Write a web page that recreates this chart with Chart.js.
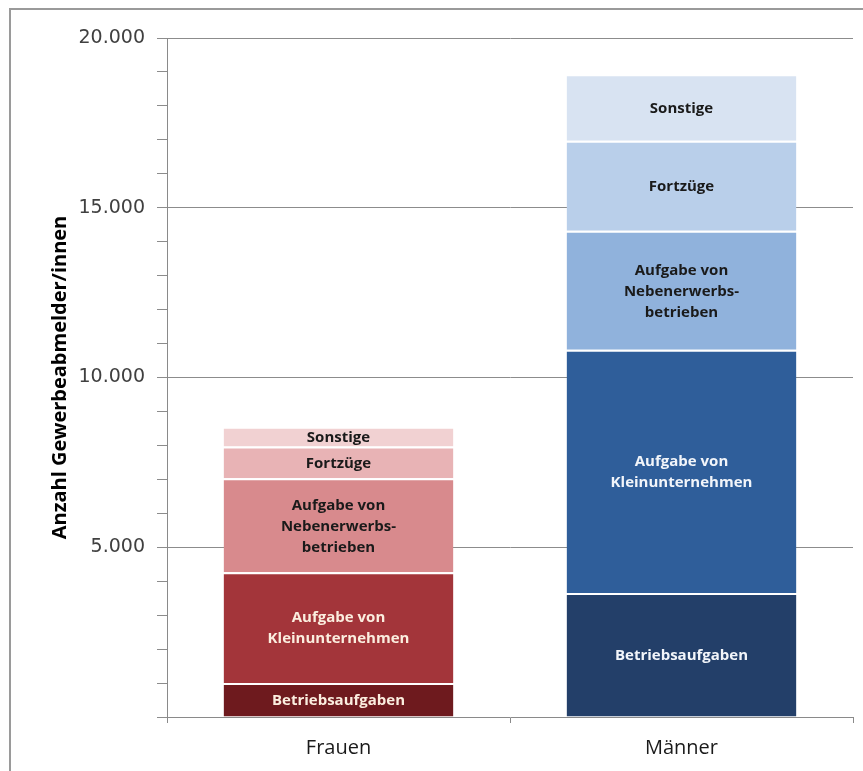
<!DOCTYPE html>
<html lang="de">
<head>
<meta charset="utf-8">
<title>Gewerbeabmeldungen nach Geschlecht</title>
<script src="https://cdn.jsdelivr.net/npm/chart.js@4.4.1/dist/chart.umd.min.js"></script>
<style>
    html, body { margin: 0; padding: 0; background: #ffffff; overflow: hidden; }
    #wrap { position: relative; width: 863px; height: 771px; }
    #frame {
        position: absolute; left: 9px; top: 8px; width: 900px; height: 800px;
        border: 2px solid #9a9a9a; box-sizing: border-box;
    }
    #chart { position: absolute; left: 0; top: 0; }
</style>
</head>
<body>
<div id="wrap">
    <div id="frame"></div>
    <canvas id="chart" width="863" height="771"></canvas>
</div>
<script>
// ===== DATA =====
const categories = ["Frauen", "Männer"];

// Gewerbeabmeldungen je Grund (Anzahl)
const betriebsaufgaben = [1000, 3650];
const kleinunternehmen = [3260, 7170];
const nebenerwerb = [2770, 3500];
const fortzuege = [940, 2650];
const sonstige = [580, 1960];

const segmentLabels = [
    ["Betriebsaufgaben"],
    ["Aufgabe von", "Kleinunternehmen"],
    ["Aufgabe von", "Nebenerwerbs-", "betrieben"],
    ["Fortzüge"],
    ["Sonstige"]
];

const yMax = 20000;
const yMajorStep = 5000;
const yMinorStep = 1000;

// Farben: Frauen in Rottönen, Männer in Blautönen
const colorsFrauen = ["#6e1a1e", "#a3353a", "#d88a8d", "#e8b3b5", "#f1d1d2"];
const colorsMaenner = ["#233f69", "#2f5e9a", "#90b2dc", "#b9cfea", "#d8e3f2"];
const textFrauen = ["#fbeedf", "#fbeedf", "#1a1a1a", "#1a1a1a", "#1a1a1a"];
const textMaenner = ["#f2f5fa", "#f2f5fa", "#1a1a1a", "#1a1a1a", "#1a1a1a"];

const seriesValues = [betriebsaufgaben, kleinunternehmen, nebenerwerb, fortzuege, sonstige];

const datasets = seriesValues.map((values, i) => ({
    label: segmentLabels[i].join(" "),
    data: values,
    backgroundColor: [colorsFrauen[i], colorsMaenner[i]],
    borderColor: "#ffffff",
    borderWidth: { top: 2, bottom: 0, left: 0, right: 0 },
    borderSkipped: false,
    barPercentage: 0.67,
    categoryPercentage: 1.0
}));

function formatThousands(v) {
    return String(v).replace(/\B(?=(\d{3})+(?!\d))/g, ".");
}

// Beschriftung innerhalb der Segmente
const segmentTextPlugin = {
    id: "segmentText",
    afterDatasetsDraw(chart) {
        const ctx = chart.ctx;
        ctx.save();
        ctx.font = "bold 15px 'Open Sans', sans-serif";
        ctx.textAlign = "center";
        ctx.textBaseline = "middle";
        const lineHeight = 21;
        chart.data.datasets.forEach((ds, i) => {
            const meta = chart.getDatasetMeta(i);
            meta.data.forEach((bar, j) => {
                const lines = segmentLabels[i];
                const midY = (bar.y + bar.base) / 2 + 1;
                const startY = midY - (lines.length - 1) * lineHeight / 2;
                ctx.fillStyle = j === 0 ? textFrauen[i] : textMaenner[i];
                lines.forEach((line, k) => {
                    ctx.fillText(line, bar.x, startY + k * lineHeight);
                });
            });
        });
        ctx.restore();
    }
};

const ctx = document.getElementById("chart");
new Chart(ctx, {
    type: "bar",
    data: {
        labels: categories,
        datasets: datasets
    },
    options: {
        responsive: false,
        animation: false,
        layout: {
            padding: { top: 38, right: 10, bottom: 0, left: 0 }
        },
        plugins: {
            legend: { display: false },
            tooltip: { enabled: false }
        },
        scales: {
            x: {
                stacked: true,
                offset: true,
                afterFit(scale) { scale.height = 54; },
                grid: {
                    offset: true,
                    drawOnChartArea: false,
                    drawTicks: true,
                    tickLength: 6,
                    tickColor: "#8a8a8a"
                },
                border: { display: true, color: "#8a8a8a", width: 1 },
                ticks: {
                    color: "#1a1a1a",
                    padding: 13,
                    font: { family: "'Open Sans', sans-serif", size: 20 }
                }
            },
            y: {
                stacked: true,
                min: 0,
                max: yMax,
                afterFit(scale) { scale.width = 167; },
                grid: {
                    drawTicks: true,
                    tickLength: 10,
                    color: (c) => (c.tick && c.tick.value % yMajorStep === 0 && c.tick.value > 0) ? "#8c8c8c" : "rgba(0,0,0,0)",
                    tickColor: "#8c8c8c"
                },
                border: { display: true, color: "#8a8a8a", width: 1 },
                ticks: {
                    stepSize: yMinorStep,
                    autoSkip: false,
                    padding: 12,
                    color: "#404040",
                    font: { family: "'DejaVu Sans', sans-serif", size: 19 },
                    callback: (v) => (v % yMajorStep === 0 && v > 0) ? formatThousands(v) : ""
                },
                title: {
                    display: true,
                    text: "Anzahl Gewerbeabmelder/innen",
                    color: "#000000",
                    font: { family: "'Open Sans', sans-serif", size: 20, weight: "bold" },
                    padding: { top: 48, bottom: 0 }
                }
            }
        }
    },
    plugins: [segmentTextPlugin]
});
</script>
</body>
</html>
